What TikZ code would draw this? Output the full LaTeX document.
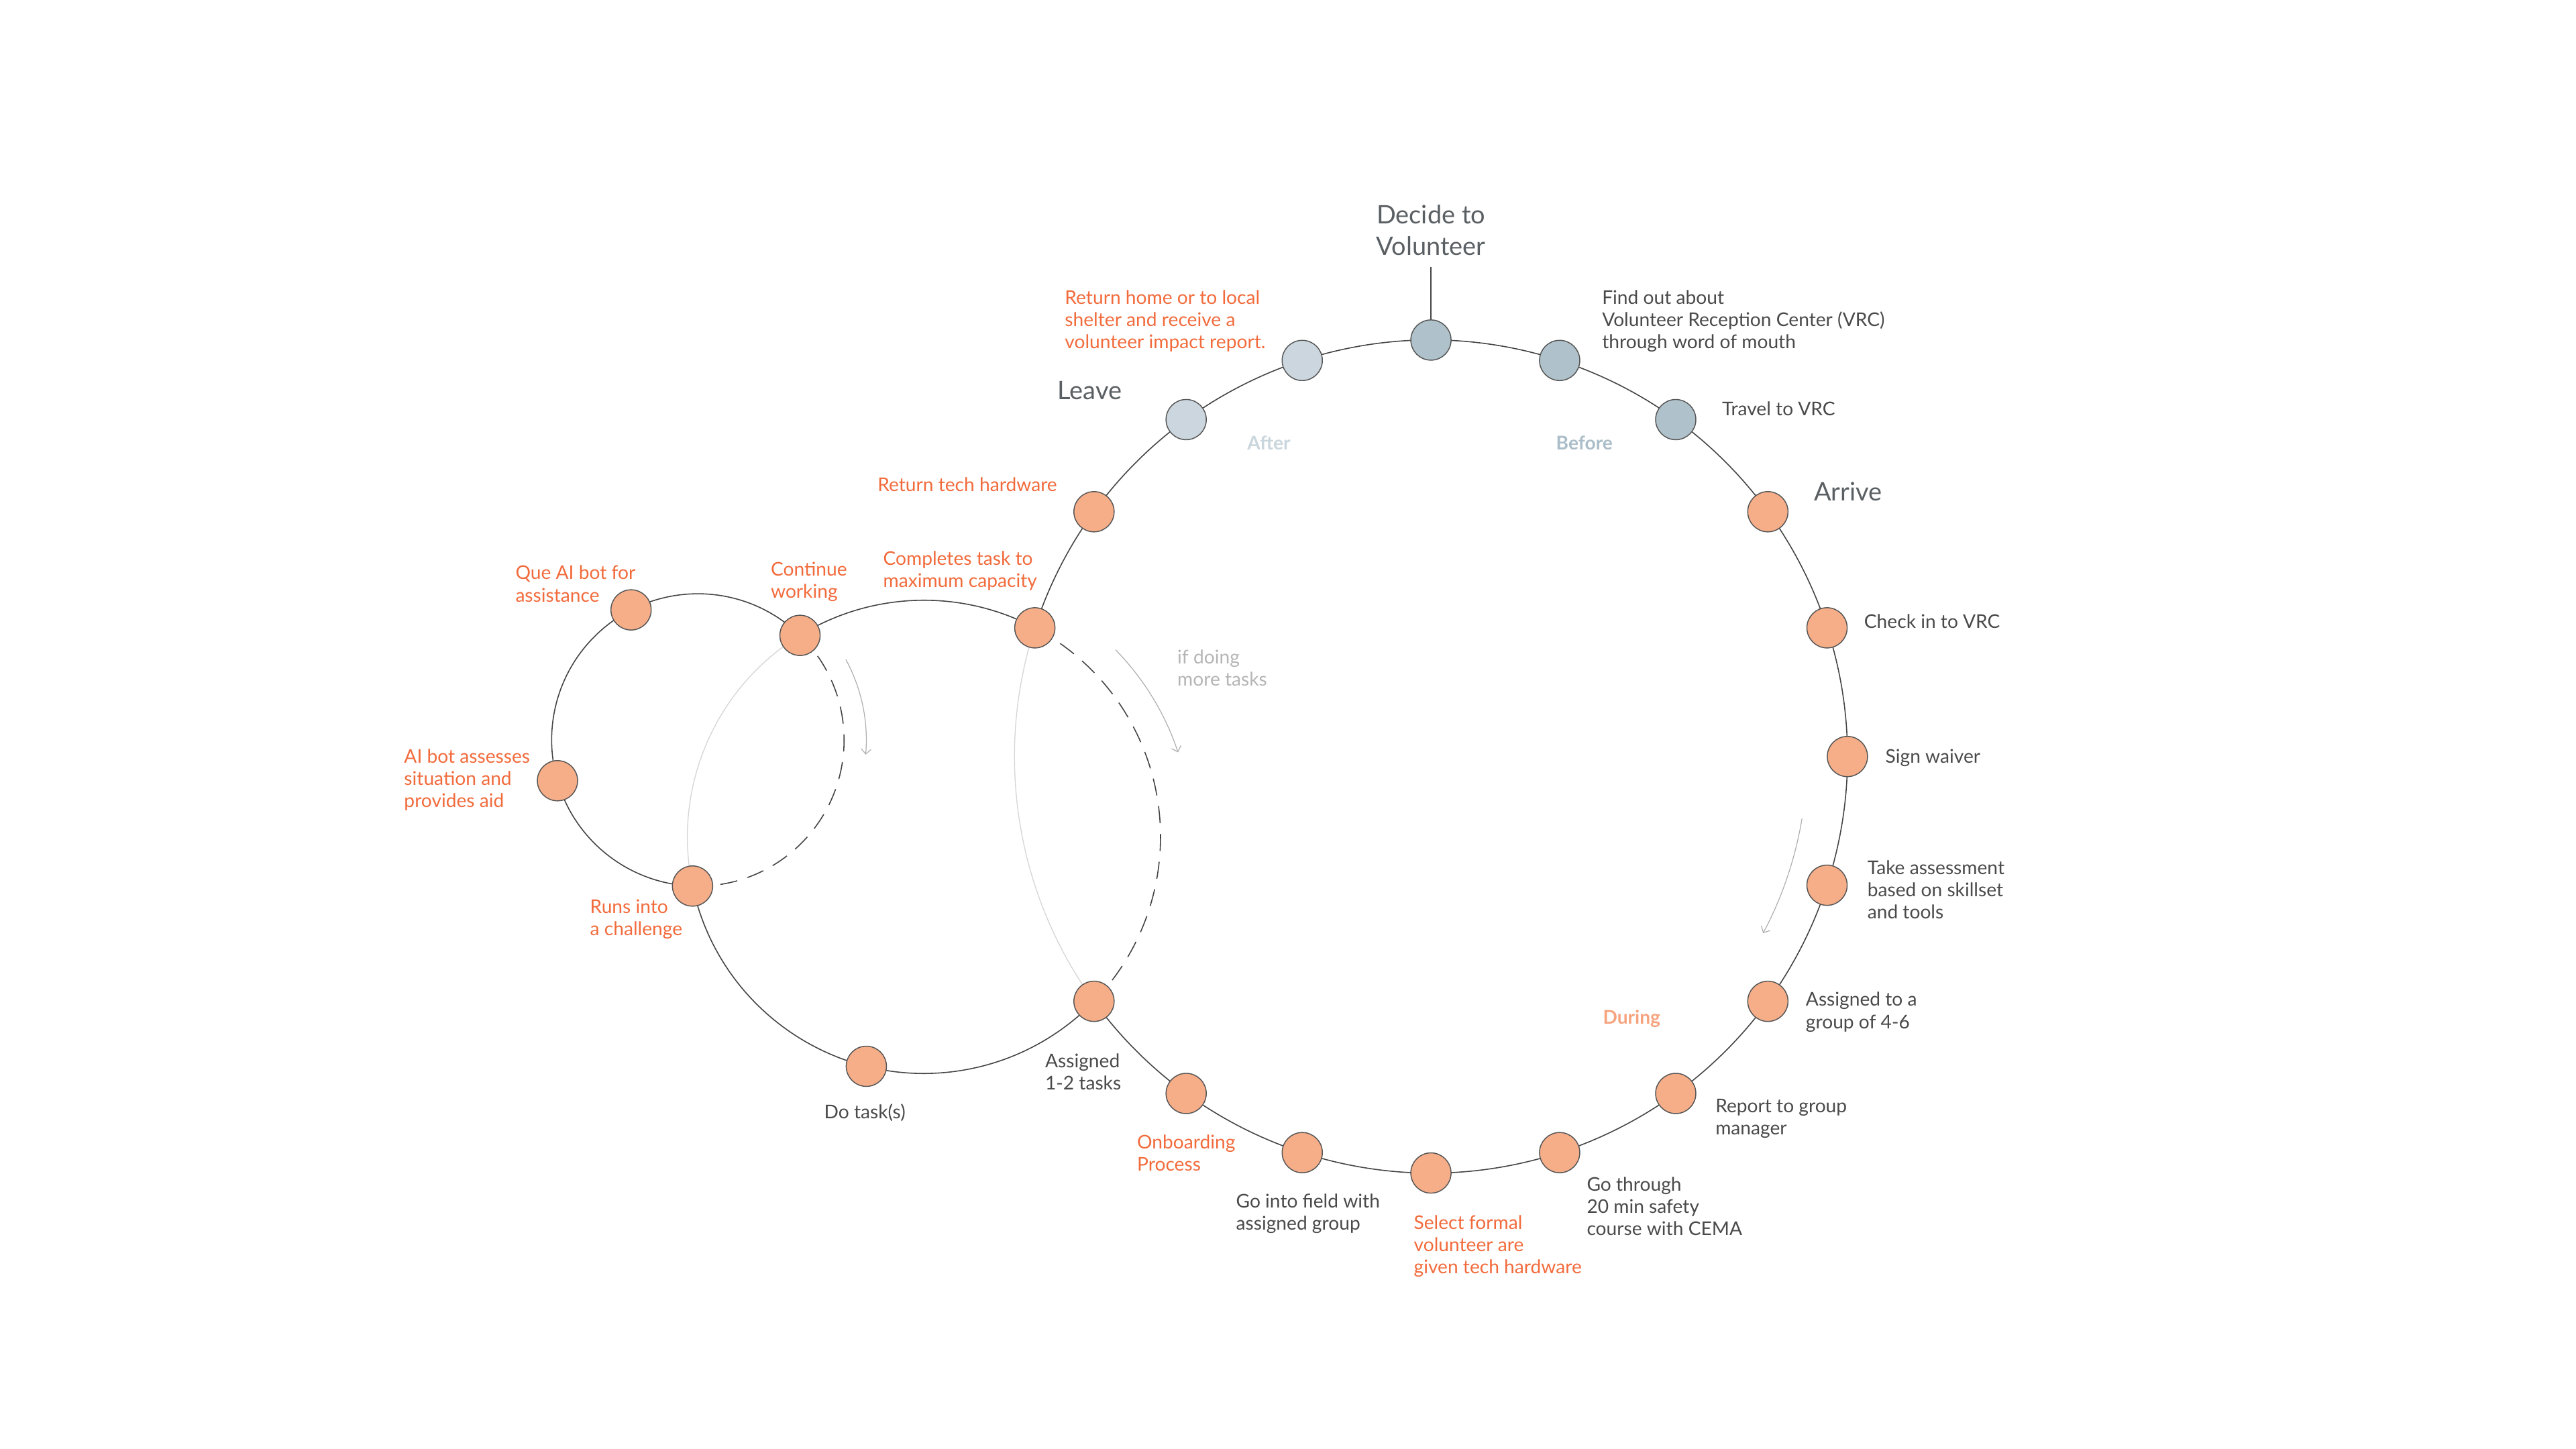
\documentclass[tikz,border=0pt]{standalone}
\usepackage{fontspec}
\setmainfont{Lato}
\usetikzlibrary{arrows.meta,backgrounds}
\definecolor{linecol}{HTML}{444444}
\definecolor{nodeline}{HTML}{555555}
\definecolor{salmon}{HTML}{F6AE89}
\definecolor{bluenode}{HTML}{AFC1CA}
\definecolor{lightnode}{HTML}{CBD6DE}
\definecolor{orangetext}{HTML}{F26B3C}
\definecolor{darktext}{HTML}{4A4A4A}
\definecolor{bigtext}{HTML}{5A5F63}
\definecolor{hinttext}{HTML}{B5B5B5}
\definecolor{faintcol}{HTML}{D6D6D6}
\definecolor{arrowcol}{HTML}{AFAFAF}
\definecolor{aftercol}{HTML}{CAD6DD}
\definecolor{beforecol}{HTML}{AABDC8}
\definecolor{duringcol}{HTML}{F6A47F}
\tikzset{
  stop/.style={circle, draw=nodeline, line width=0.6pt, minimum size=24.5pt, inner sep=0pt, fill=salmon},
  stopB/.style={stop, fill=bluenode},
  stopL/.style={stop, fill=lightnode},
  ring/.style={draw=linecol, line width=0.65pt},
  faint/.style={draw=faintcol, line width=0.55pt},
  dashring/.style={ring, dash pattern=on 10.5pt off 6.5pt},
  hint/.style={draw=arrowcol, line width=0.5pt, -{Straight Barb[length=3pt,width=6pt]}},
  lbl/.style={anchor=base west, align=left, inner sep=0pt, font=\fontsize{11.5}{13.5}\selectfont, text=darktext},
  olbl/.style={lbl, text=orangetext},
  glbl/.style={lbl, text=hinttext},
  biglbl/.style={inner sep=0pt, font=\fontsize{15.5}{19.4}\selectfont, text=bigtext},
  phase/.style={anchor=base west, inner sep=0pt, font=\fontsize{11.5}{13.5}\selectfont\bfseries},
}
\begin{document}
\begin{tikzpicture}[x=1pt,y=1pt]
\useasboundingbox (0,0) rectangle (1568,882);
\coordinate (cB) at (871,421.5);
\coordinate (cM) at (562.4,372.6);
\coordinate (cS) at (424.8,431.6);
% big circle stops
\node[stopB] (dec) at ([shift={(90:253.5)}]cB) {};
\node[stopB] (find) at ([shift={(72:253.5)}]cB) {};
\node[stopB] (travel) at ([shift={(54:253.5)}]cB) {};
\node[stop] (arrive) at ([shift={(36:253.5)}]cB) {};
\node[stop] (checkin) at ([shift={(18:253.5)}]cB) {};
\node[stop] (sign) at ([shift={(0:253.5)}]cB) {};
\node[stop] (assess) at ([shift={(-18:253.5)}]cB) {};
\node[stop] (group) at ([shift={(-36:253.5)}]cB) {};
\node[stop] (report) at ([shift={(-54:253.5)}]cB) {};
\node[stop] (safety) at ([shift={(-72:253.5)}]cB) {};
\node[stop] (select) at ([shift={(-90:253.5)}]cB) {};
\node[stop] (field) at ([shift={(-108:253.5)}]cB) {};
\node[stop] (onboard) at ([shift={(-126:253.5)}]cB) {};
\node[stop] (assigntwo) at ([shift={(-144:253.5)}]cB) {};
\node[stop] (completes) at ([shift={(162:253.5)}]cB) {};
\node[stop] (rettech) at ([shift={(144:253.5)}]cB) {};
\node[stopL] (leave) at ([shift={(126:253.5)}]cB) {};
\node[stopL] (rethome) at ([shift={(108:253.5)}]cB) {};
% middle circle stops
\node[stop] (cont) at ([shift={(121.6:144)}]cM) {};
\node[stop] (runs) at ([shift={(192:144)}]cM) {};
\node[stop] (dotask) at ([shift={(-104.1:144)}]cM) {};
% small circle stops
\node[stop] (queai) at ([shift={(117.2:89)}]cS) {};
\node[stop] (aibot) at ([shift={(196.2:89)}]cS) {};
% hint arrow ends
\coordinate (hsA) at ([shift={(28.5:102.5)}]cS);
\coordinate (hmA) at ([shift={(44.3:163)}]cM);
\coordinate (hbA) at ([shift={(-9.5:229)}]cB);
\coordinate (dectop) at (871,719.5);
\begin{scope}[on background layer]
  % big circle
  \draw[ring] (completes.center) arc[start angle=162, end angle=-144, radius=253.5];
  \draw[faint] (completes.center) arc[start angle=162, end angle=216, radius=253.5];
  \draw[ring] (dec.north) -- (dectop);
  % middle circle
  \draw[ring] (completes.center) arc[start angle=62.05, end angle=121.6, radius=144];
  \draw[faint] (cont.center) arc[start angle=121.6, end angle=192, radius=144];
  \draw[ring] (runs.center) arc[start angle=192, end angle=315.96, radius=144];
  \draw[dashring] (assigntwo.center) arc[start angle=-44.04, end angle=62.05, radius=144];
  % small circle
  \draw[ring] (cont.center) arc[start angle=45.68, end angle=267.91, radius=89];
  \draw[dashring] (runs.center) arc[start angle=267.91, end angle=405.68, radius=89];
\end{scope}
% hint arrows
\draw[hint] (hsA) arc[start angle=28.5, end angle=-5, radius=102.5];
\draw[hint] (hmA) arc[start angle=44.3, end angle=18.4, radius=163];
\draw[hint] (hbA) arc[start angle=-9.5, end angle=-28, radius=229];
% big labels
\node[biglbl, anchor=base, align=center] (tdec) at (871,726.6) {Decide to\\Volunteer};
\node[biglbl, anchor=base west] (tleave) at (643.6,639) {Leave};
\node[biglbl, anchor=base west] (tarrive) at (1104,577.3) {Arrive};
% phases
\node[phase, text=aftercol] (tafter) at (759,608) {After};
\node[phase, text=beforecol] (tbefore) at (947,608) {Before};
\node[phase, text=duringcol] (tduring) at (975.5,258.6) {During};
% labels (anchor at baseline of last line)
\node[lbl] (tfind) at (975,670) {Find out about\\Volunteer Reception Center (VRC)\\through word of mouth};
\node[lbl] (ttravel) at (1048,629) {Travel to VRC};
\node[olbl] (trethome) at (648,670) {Return home or to local\\shelter and receive a\\volunteer impact report.};
\node[olbl] (trettech) at (534,582.7) {Return tech hardware};
\node[lbl] (tcheckin) at (1134.5,499.4) {Check in to VRC};
\node[lbl] (tsign) at (1147.5,417.7) {Sign waiver};
\node[lbl] (tassess) at (1136.5,322.8) {Take assessment\\based on skillset\\and tools};
\node[lbl] (tgroup) at (1099,256) {Assigned to a\\group of 4-6};
\node[lbl] (treport) at (1044,191.1) {Report to group\\manager};
\node[lbl] (tsafety) at (965.7,130.2) {Go through\\20 min safety\\course with CEMA};
\node[olbl] (tselect) at (860.4,106.8) {Select formal\\volunteer are\\given tech hardware};
\node[lbl] (tfield) at (752.2,133.3) {Go into field with\\assigned group};
\node[olbl] (tonboard) at (692,169.3) {Onboarding\\Process};
\node[lbl] (tassigntwo) at (636,218.5) {Assigned\\1-2 tasks};
\node[lbl] (tdotask) at (501.5,201.3) {Do task(s)};
\node[olbl] (truns) at (359,312.5) {Runs into\\a challenge};
\node[olbl] (taibot) at (245.8,390.7) {AI bot assesses\\situation and\\provides aid};
\node[olbl] (tqueai) at (313.6,515.7) {Que AI bot for\\assistance};
\node[olbl] (tcont) at (469,518.1) {Continue\\working};
\node[olbl] (tcompletes) at (537.4,524.5) {Completes task to\\maximum capacity};
\node[glbl] (tmore) at (716.5,464.5) {if doing\\more tasks};
\end{tikzpicture}
\end{document}
